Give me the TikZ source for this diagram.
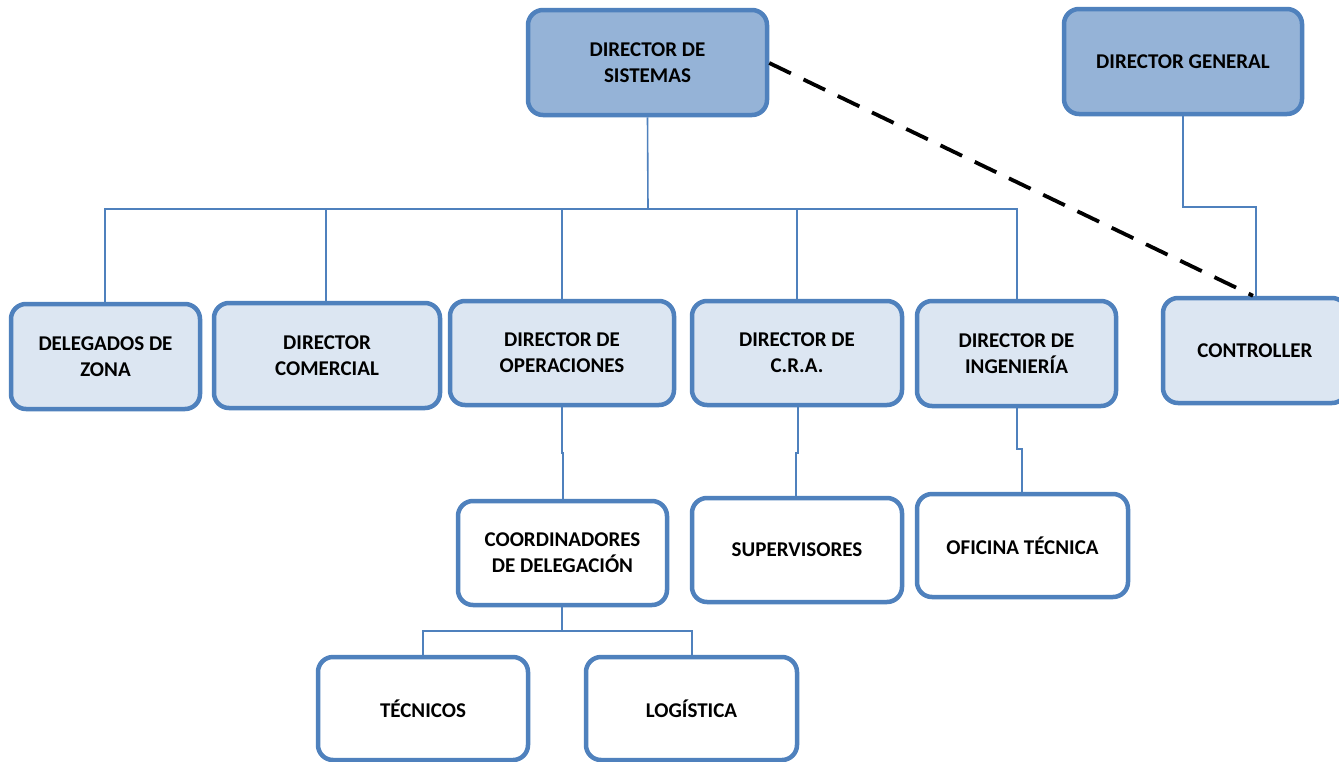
\documentclass[tikz,border=0pt]{standalone}
\usepackage{fontspec}
\setmainfont{Carlito}
\usetikzlibrary{backgrounds}
\definecolor{bordblue}{HTML}{4F81BD}
\definecolor{darkfill}{HTML}{95B3D7}
\definecolor{lightfill}{HTML}{DCE6F2}
\begin{document}
\begin{tikzpicture}[x=1pt,y=-1pt,
  box/.style={draw=bordblue, line width=4.5pt, rounded corners=15pt,
    align=center, inner sep=0pt, font=\fontsize{21}{26}\selectfont\bfseries,
    text=black},
  topbox/.style={box, fill=darkfill},
  midbox/.style={box, fill=lightfill},
  lowbox/.style={box, fill=white},
  link/.style={draw=bordblue, line width=1.6pt},
  dashlink/.style={draw=black, line width=3.8pt, dash pattern=on 24pt off 14pt}]
\useasboundingbox (0,0) rectangle (1339,761);
\clip (0,0) rectangle (1339,761);

\node[topbox, minimum width=239pt, minimum height=105pt] (sis) at (647.5,62.5) {DIRECTOR DE\\SISTEMAS};
\node[topbox, minimum width=238pt, minimum height=105pt] (gen) at (1183,61.5) {DIRECTOR GENERAL};
\node[midbox, minimum width=184pt, minimum height=105pt] (ctl) at (1255,350.5) {CONTROLLER};
\node[midbox, minimum width=189pt, minimum height=105pt] (del) at (105.5,356.5) {DELEGADOS DE\\ZONA};
\node[midbox, minimum width=226pt, minimum height=105pt] (com) at (327,355.5) {DIRECTOR\\COMERCIAL};
\node[midbox, minimum width=224pt, minimum height=104pt] (ope) at (562,353) {DIRECTOR DE\\OPERACIONES};
\node[midbox, minimum width=210pt, minimum height=104pt] (cra) at (797,353) {DIRECTOR DE\\C.R.A.};
\node[midbox, minimum width=199pt, minimum height=105pt] (ing) at (1016.5,353.5) {DIRECTOR DE\\INGENIERÍA};
\node[lowbox, minimum width=209pt, minimum height=104pt] (coo) at (562.5,553) {COORDINADORES\\DE DELEGACIÓN};
\node[lowbox, minimum width=210pt, minimum height=104pt] (sup) at (797,550) {SUPERVISORES};
\node[lowbox, minimum width=211pt, minimum height=103pt] (ofi) at (1022.5,545.5) {OFICINA TÉCNICA};
\node[lowbox, minimum width=210pt, minimum height=103pt] (tec) at (423,708.5) {TÉCNICOS};
\node[lowbox, minimum width=211pt, minimum height=103pt] (log) at (691.5,708.5) {LOGÍSTICA};

\coordinate (bus) at (648,209);
\coordinate (gj1) at (1183,207);
\coordinate (gj2) at (1256,207);
\coordinate (cbus) at (562,631);

\begin{scope}[on background layer]
\fill[white] (0,0) rectangle (1339,761);
\draw[link] (sis.south) -- (bus);
\draw[link] (del.north -| 105,0) -- (105,209) -- (1017,209) -- (ing.north -| 1017,0);
\draw[link] (326,209) -- (com.north -| 326,0);
\draw[link] (562,209) -- (ope.north);
\draw[link] (797,209) -- (cra.north);
\draw[link] (ope.south) -- (562,453) -- (563,453) -- (coo.north -| 563,0);
\draw[link] (cra.south -| 798,0) -- (798,453) -- (796,453) -- (sup.north -| 796,0);
\draw[link] (ing.south -| 1017,0) -- (1017,449) -- (1022,449) -- (ofi.north -| 1022,0);
\draw[link] (coo.south -| 562,0) -- (cbus);
\draw[link] (tec.north) -- (423,631) -- (692,631) -- (log.north -| 692,0);
\draw[link] (gen.south) -- (gj1) -- (gj2) -- (ctl.north -| 1256,0);
\end{scope}
\draw[dashlink] (sis.east |- 0,63) -- (ctl.north -| 1253,0);
\end{tikzpicture}
\end{document}
